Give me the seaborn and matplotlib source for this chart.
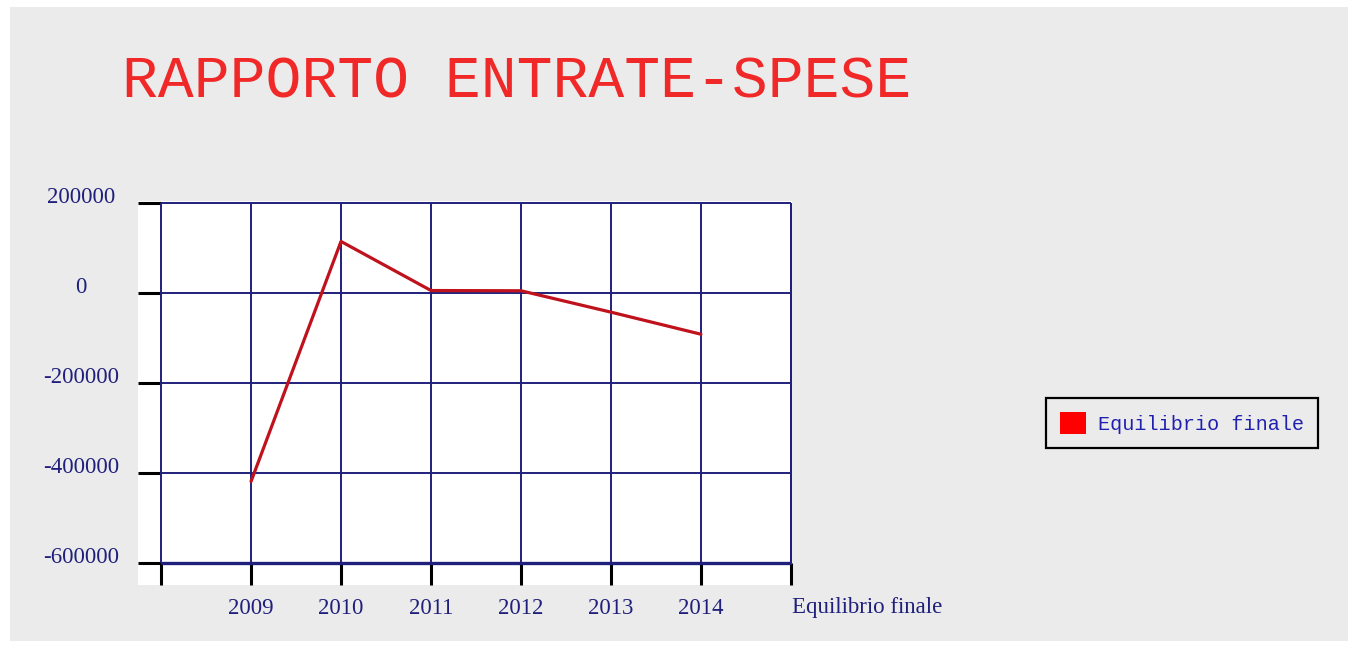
import matplotlib
matplotlib.use("Agg")
import matplotlib.pyplot as plt
from matplotlib.patches import Rectangle, Patch
import seaborn as sns
import pandas as pd

# Final balance per year
years = [2009, 2010, 2011, 2012, 2013, 2014]
balance = [-419000, 114000, 5000, 4500, -43000, -92000]
series_name = "Equilibrio finale"
title = "RAPPORTO ENTRATE-SPESE"

y_ticks = [200000, 0, -200000, -400000, -600000]
x_grid = [years[0] - 1] + years + [years[-1] + 1]
x_labels = [""] + [str(y) for y in years] + [""]

df = pd.DataFrame({"anno": years, series_name: balance})

sns.set_style("white")
plt.rcParams["font.family"] = ["Liberation Serif", "DejaVu Serif"]

navy = "#20207c"
W, H = 1350, 645
fig = plt.figure(figsize=(W / 100, H / 100), dpi=100, facecolor="white")

# grey panel behind everything
fig.patches.append(Rectangle((10 / W, 1 - 641 / H), 1338 / W, 634 / H,
                             transform=fig.transFigure, facecolor="#ebebeb",
                             edgecolor="none", zorder=-10))

ax = fig.add_axes([138 / W, 1 - 585 / H, 654 / W, 384 / H])
ax.set_zorder(1)
ax.set_facecolor("white")
for s in ax.spines.values():
    s.set_visible(False)

ax.set_xlim(x_grid[0] - 0.256, x_grid[-1] + 0.012)
ax.set_ylim(-648800, 203800)

# grid drawn only across the data range
ax.hlines(y_ticks, x_grid[0], x_grid[-1], colors=navy, linewidth=1.4, zorder=1)
ax.hlines([min(y_ticks)], x_grid[0], x_grid[-1], colors=navy, linewidth=2.4, zorder=1)
ax.vlines(x_grid, min(y_ticks), max(y_ticks), colors=navy, linewidth=1.4, zorder=1)
ax.vlines([x_grid[-1]], min(y_ticks), max(y_ticks), colors=navy, linewidth=2.0, zorder=1)

sns.lineplot(data=df, x="anno", y=series_name, ax=ax, color="#c0121c",
             linewidth=2.3, zorder=3, legend=False)

ax.set_xticks(x_grid)
ax.set_xticklabels(x_labels)
ax.set_yticks(y_ticks)
ax.set_yticklabels([str(v) for v in y_ticks])
ax.tick_params(axis="y", left=True, direction="in", length=16.5, width=2.2,
               color="black", pad=41, labelsize=16.5, labelcolor=navy)
ax.tick_params(axis="x", bottom=True, direction="in", length=16, width=2.2,
               color="black", pad=9, labelsize=16.5, labelcolor=navy)
for lab in ax.get_yticklabels():
    lab.set_horizontalalignment("center")
    lab.set_verticalalignment("baseline")
ax.set_xlabel("")
ax.set_ylabel("")

fig.text(792 / W, 1 - 607 / H, series_name, ha="left", va="center",
         fontsize=16.5, color=navy)

fig.text(122 / W, 1 - 98 / H, title, ha="left", va="baseline",
         fontsize=43, color="#f02828", family=["Liberation Mono", "DejaVu Sans Mono"])

handle = Patch(facecolor="#ff0000", edgecolor="none", label=series_name)
leg = fig.legend(handles=[handle], loc="center",
                 bbox_to_anchor=((1041 + 1323) / 2 / W, 1 - 423 / H),
                 frameon=True, fancybox=False, facecolor="#ebebeb",
                 edgecolor="black", framealpha=1,
                 prop={"family": ["Liberation Mono", "DejaVu Sans Mono"], "size": 14.5},
                 handlelength=1.3, handleheight=1.3, handletextpad=0.55,
                 borderpad=0.7)
leg.get_frame().set_linewidth(1.6)
for t in leg.get_texts():
    t.set_color("#2020b0")

fig.savefig("out.png", dpi=100, facecolor=fig.get_facecolor())
